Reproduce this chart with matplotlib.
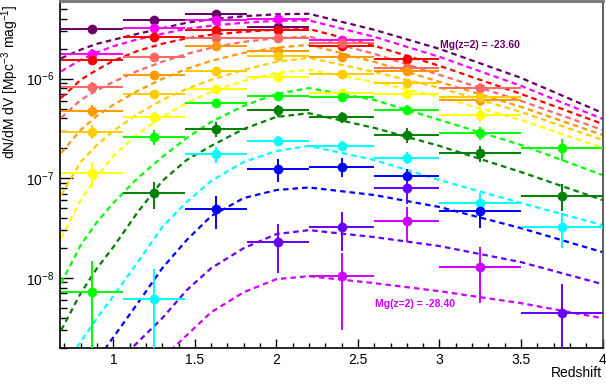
import numpy as np
import matplotlib
matplotlib.use("Agg")
import matplotlib.pyplot as plt
from matplotlib.ticker import FixedLocator, LogLocator, NullFormatter, MultipleLocator

plt.rcParams['font.family'] = ['Liberation Sans', 'DejaVu Sans']
plt.rcParams['mathtext.default'] = 'regular'

# ------------------------------------------------------------------
# redshift bins of the measured points
# ------------------------------------------------------------------
BIN_Z = [0.87, 1.25, 1.63, 2.01, 2.40, 2.80, 3.25, 3.75]
BIN_HALF = [0.19, 0.19, 0.19, 0.19, 0.20, 0.20, 0.25, 0.25]

MODEL_Z = [0.68, 0.80, 0.90, 1.00, 1.15, 1.30, 1.45, 1.60, 1.80, 2.00, 2.20, 2.60, 3.00, 3.50, 4.00]

MAGS = [-23.6, -24.0, -24.4, -24.8, -25.2, -25.6, -26.0, -26.4, -26.8, -27.2, -27.6, -28.0, -28.4]
COLORS = ['#660066', '#ff00ff', '#ff0000', '#ff6666', '#ff9900', '#ffcc00', '#ffff00',
          '#00ff00', '#008000', '#00ffff', '#0000ff', '#6600ff', '#cc00ff']

# measured dN/dM dV per bin (None = no point)
dens_m2360 = [3.14e-6, 3.89e-6, 4.40e-6, 3.29e-6, None, None, None, None]
dens_m2400 = [1.77e-6, 3.18e-6, 3.83e-6, 3.95e-6, 2.45e-6, None, None, None]
dens_m2440 = [1.53e-6, 2.62e-6, 3.08e-6, 3.05e-6, 2.13e-6, 1.57e-6, None, None]
dens_m2480 = [8.2e-7, 1.66e-6, 2.58e-6, 2.55e-6, 2.29e-6, 1.29e-6, 8.0e-7, None]
dens_m2520 = [4.77e-7, 1.08e-6, 2.10e-6, 1.89e-6, 1.63e-6, 1.18e-6, 6.04e-7, None]
dens_m2560 = [2.93e-7, 7.02e-7, 1.19e-6, 1.68e-6, 1.10e-6, 9.1e-7, 6.55e-7, None]
dens_m2600 = [1.14e-7, 4.09e-7, 7.87e-7, 1.03e-6, 7.13e-7, 6.93e-7, 4.28e-7, 2.01e-7]
dens_m2640 = [7.2e-9, 2.58e-7, 5.66e-7, 6.75e-7, 6.47e-7, 4.84e-7, 2.82e-7, 1.99e-7]
dens_m2680 = [None, 7.05e-8, 3.10e-7, 4.79e-7, 4.09e-7, 2.72e-7, 1.79e-7, 6.67e-8]
dens_m2720 = [None, 6.2e-9, 1.74e-7, 2.38e-7, 2.12e-7, 1.60e-7, 5.60e-8, 3.21e-8]
dens_m2760 = [None, None, 4.86e-8, 1.23e-7, 1.31e-7, 1.04e-7, 4.68e-8, None]
dens_m2800 = [None, None, None, 2.30e-8, 3.21e-8, 7.93e-8, None, 4.39e-9]
dens_m2840 = [None, None, None, None, 1.04e-8, 3.74e-8, 1.29e-8, None]

# relative (symmetric) errors on the points
rel_m2360 = [0.10, 0.09, 0.08, 0.08, None, None, None, None]
rel_m2400 = [0.11, 0.08, 0.07, 0.06, 0.08, None, None, None]
rel_m2440 = [0.11, 0.08, 0.07, 0.06, 0.07, 0.10, None, None]
rel_m2480 = [0.12, 0.08, 0.07, 0.06, 0.07, 0.09, 0.12, None]
rel_m2520 = [0.13, 0.09, 0.07, 0.06, 0.07, 0.09, 0.13, None]
rel_m2560 = [0.16, 0.10, 0.08, 0.07, 0.07, 0.09, 0.13, None]
rel_m2600 = [0.29, 0.13, 0.09, 0.08, 0.08, 0.10, 0.14, 0.22]
rel_m2640 = [1.05, 0.17, 0.10, 0.09, 0.09, 0.11, 0.15, 0.25]
rel_m2680 = [None, 0.31, 0.17, 0.14, 0.13, 0.17, 0.18, 0.30]
rel_m2720 = [None, 1.00, 0.18, 0.11, 0.12, 0.14, 0.28, 0.38]
rel_m2760 = [None, None, 0.36, 0.26, 0.21, 0.20, 0.33, None]
rel_m2800 = [None, None, None, 0.51, 0.415, 0.30, None, 0.97]
rel_m2840 = [None, None, None, None, 0.715, 0.383, 0.566, None]

# model curves, log10(dN/dM dV) at MODEL_Z
logmod_m2360 = [-5.797, -5.710, -5.651, -5.611, -5.551, -5.495, -5.440, -5.405, -5.375, -5.355, -5.350, -5.511, -5.702, -5.993, -6.345]
logmod_m2400 = [-5.928, -5.812, -5.737, -5.676, -5.606, -5.551, -5.500, -5.470, -5.440, -5.420, -5.417, -5.581, -5.782, -6.073, -6.405]
logmod_m2440 = [-6.194, -6.013, -5.912, -5.822, -5.722, -5.651, -5.596, -5.561, -5.531, -5.510, -5.503, -5.671, -5.872, -6.154, -6.455]
logmod_m2480 = [-6.395, -6.214, -6.118, -6.033, -5.923, -5.832, -5.752, -5.691, -5.631, -5.596, -5.578, -5.752, -5.963, -6.224, -6.516]
logmod_m2520 = [-6.747, -6.516, -6.375, -6.264, -6.124, -6.003, -5.903, -5.822, -5.742, -5.691, -5.661, -5.832, -6.033, -6.284, -6.566]
logmod_m2560 = [-7.169, -6.837, -6.666, -6.526, -6.355, -6.214, -6.104, -6.013, -5.912, -5.832, -5.792, -5.933, -6.093, -6.335, -6.616]
logmod_m2600 = [-7.601, -7.219, -6.978, -6.777, -6.556, -6.385, -6.244, -6.134, -6.023, -5.943, -5.913, -6.033, -6.184, -6.415, -6.696]
logmod_m2640 = [-8.053, -7.671, -7.440, -7.249, -6.998, -6.787, -6.596, -6.435, -6.274, -6.154, -6.096, -6.214, -6.415, -6.666, -6.968]
logmod_m2680 = [-8.526, -8.154, -7.903, -7.691, -7.340, -7.028, -6.817, -6.676, -6.506, -6.385, -6.348, -6.495, -6.676, -6.938, -7.219]
logmod_m2720 = [-8.938, -8.641, -8.405, -8.184, -7.842, -7.490, -7.239, -7.028, -6.837, -6.727, -6.676, -6.817, -7.018, -7.249, -7.470]
logmod_m2760 = [-9.330, -9.048, -8.827, -8.596, -8.254, -7.903, -7.621, -7.380, -7.199, -7.119, -7.093, -7.169, -7.289, -7.501, -7.742]
logmod_m2800 = [None, None, None, -8.887, -8.646, -8.405, -8.124, -7.903, -7.702, -7.561, -7.521, -7.591, -7.681, -7.842, -8.063]
logmod_m2840 = [None, None, None, None, -9.078, -8.807, -8.576, -8.345, -8.144, -8.013, -7.983, -8.053, -8.134, -8.254, -8.405]

DENS = [dens_m2360, dens_m2400, dens_m2440, dens_m2480, dens_m2520, dens_m2560, dens_m2600,
        dens_m2640, dens_m2680, dens_m2720, dens_m2760, dens_m2800, dens_m2840]
RELERR = [rel_m2360, rel_m2400, rel_m2440, rel_m2480, rel_m2520, rel_m2560, rel_m2600,
          rel_m2640, rel_m2680, rel_m2720, rel_m2760, rel_m2800, rel_m2840]
LOGMOD = [logmod_m2360, logmod_m2400, logmod_m2440, logmod_m2480, logmod_m2520, logmod_m2560, logmod_m2600,
          logmod_m2640, logmod_m2680, logmod_m2720, logmod_m2760, logmod_m2800, logmod_m2840]

# ------------------------------------------------------------------
# figure
# ------------------------------------------------------------------
fig = plt.figure(figsize=(6.06, 3.87), dpi=100)
ax = fig.add_axes([60 / 606, 39.5 / 387, 542.5 / 606, 346.5 / 387])

bz = np.array(BIN_Z)
bh = np.array(BIN_HALF)
for i in range(len(MAGS)):
    col = COLORS[i]
    lm = np.array(LOGMOD[i], dtype=float)
    ax.plot(MODEL_Z, 10 ** lm, ls=(0, (2.5, 1.8)), lw=1.6, color=col, zorder=2)

for i in range(len(MAGS)):
    col = COLORS[i]
    d = np.array(DENS[i], dtype=float)
    r = np.array(RELERR[i], dtype=float)
    ok = ~np.isnan(d)
    y = d[ok]
    e = y * r[ok]
    lo = np.minimum(e, y * 0.999)
    ax.errorbar(bz[ok], y, xerr=bh[ok], yerr=[lo, e], fmt='o', ms=6, color=col,
                elinewidth=1.4, capsize=0, zorder=3)

ax.set_yscale('log')
ax.set_xlim(0.673, 4.0)
ax.set_ylim(2.0e-9, 6.0e-6)

ax.yaxis.set_major_locator(FixedLocator([1e-8, 1e-7, 1e-6]))
ax.yaxis.set_minor_locator(LogLocator(base=10, subs=np.arange(2, 10)))
ax.yaxis.set_minor_formatter(NullFormatter())
ax.xaxis.set_major_locator(MultipleLocator(0.5))
ax.xaxis.set_minor_locator(MultipleLocator(0.1))
ax.xaxis.set_major_formatter(lambda v, p: f"{v:g}")

ax.tick_params(axis='both', which='both', direction='in', labelsize=10, width=1)
ax.tick_params(axis='y', which='major', length=9, pad=4)
ax.tick_params(axis='y', which='minor', length=5)
ax.tick_params(axis='x', which='major', length=6.5, pad=4)
ax.tick_params(axis='x', which='minor', length=3.3)

for s in ['left', 'bottom']:
    ax.spines[s].set_linewidth(1.2)
ax.spines['top'].set_color('#777777')
ax.spines['top'].set_linewidth(2)
ax.spines['right'].set_color('#444444')
ax.spines['right'].set_linewidth(1.2)

ax.set_ylabel('dN/dM dV [Mpc$^{-3}$ mag$^{-1}$]', fontsize=10, loc='top')
ax.yaxis.set_label_coords(-0.072, 0.99)
ax.set_xlabel('Redshift', fontsize=10, loc='right')
ax.xaxis.set_label_coords(1.0, -0.052)
ax.xaxis.label.set_va('top')

ax.text(3.006, 2.18e-6, 'Mg(z=2) = -23.60', color='#660066', fontsize=7.5,
        fontweight='bold', va='center', ha='left')
ax.text(2.606, 5.44e-9, 'Mg(z=2) = -28.40', color='#cc00ff', fontsize=7.5,
        fontweight='bold', va='center', ha='left')

fig.savefig('out.png', dpi=100)
